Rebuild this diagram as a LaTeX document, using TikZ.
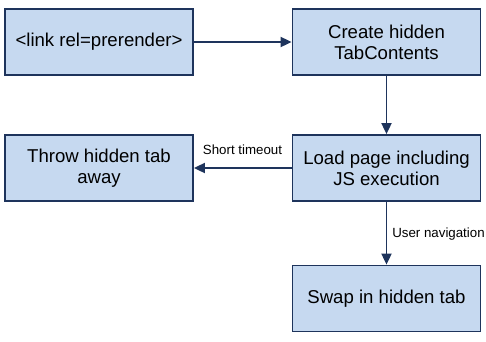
\documentclass[tikz,border=0pt]{standalone}
\usepackage{fontspec}
\setmainfont{Liberation Sans}
\usetikzlibrary{arrows.meta}
\definecolor{boxfill}{RGB}{198,217,240}
\definecolor{boxline}{RGB}{30,52,92}
\begin{document}
\begin{tikzpicture}[x=1pt,y=-1pt,
  stepbox/.style={draw=boxline,fill=boxfill,line width=1.8pt,minimum width=188pt,minimum height=66pt,
    align=center,inner sep=0pt,font=\fontsize{18.6}{21}\selectfont},
  conn/.style={draw=boxline,line width=1.8pt,-{Triangle[length=11pt,width=10pt]}},
  lbl/.style={font=\fontsize{13.3}{15}\selectfont,inner sep=0pt}]
\useasboundingbox (0,0) rectangle (486,341);
\node[stepbox] (link) at (99,42) {<link rel=prerender>};
\node[stepbox] (create) at (386.5,42) {Create hidden\\TabContents};
\node[stepbox] (throw) at (99,168) {Throw hidden tab\\away};
\node[stepbox] (load) at (386.5,168) {Load page including\\JS execution};
\node[stepbox] (swap) at (386.5,298.5) {Swap in hidden tab};
\draw[conn] (link) -- (create);
\draw[conn] (create) -- (load);
\draw[conn] (load) -- (throw);
\draw[conn] (load) -- (swap);
\node[lbl] (st) at (242.5,150) {Short timeout};
\node[lbl] (un) at (438.5,234) {User navigation};
\end{tikzpicture}
\end{document}
